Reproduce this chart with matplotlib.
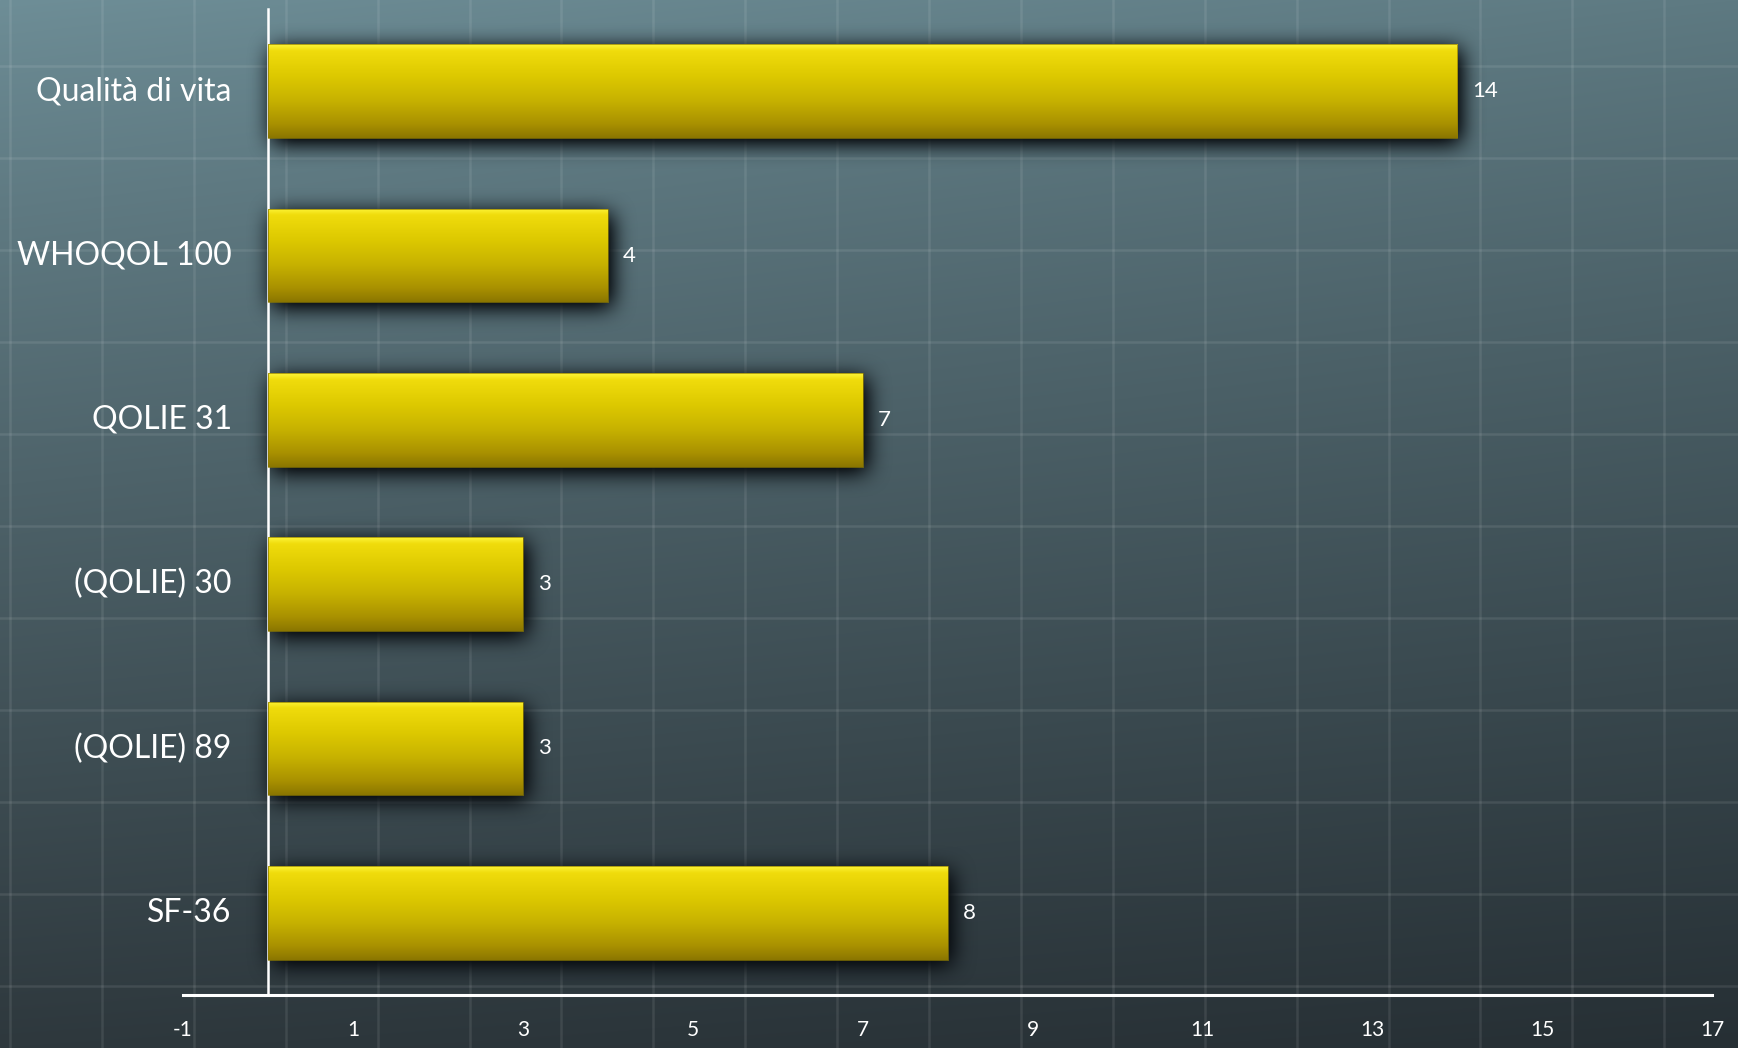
import numpy as np
import matplotlib
matplotlib.use("Agg")
import matplotlib.pyplot as plt
from matplotlib.colors import LinearSegmentedColormap

categories = ["Qualità di vita", "WHOQOL 100", "QOLIE 31", "(QOLIE) 30", "(QOLIE) 89", "SF-36"]
values = [14, 4, 7, 3, 3, 8]
xticks = [-1, 1, 3, 5, 7, 9, 11, 13, 15, 17]

W, H, DPI = 1738, 1048, 100
plt.rcParams['font.family'] = ['Lato', 'DejaVu Sans']
plt.rcParams['axes.unicode_minus'] = False

fig = plt.figure(figsize=(W / DPI, H / DPI), dpi=DPI)

# slate background with a faint square grid texture
bg = fig.add_axes([0, 0, 1, 1], zorder=0)
bg.set_axis_off()
yy, xx = np.mgrid[0:1:H * 1j, 0:1:W * 1j]
tl = np.array([110, 142, 151]); tr = np.array([94, 122, 130])
bl = np.array([46, 56, 61]); br = np.array([38, 47, 52])
xx3, yy3 = xx[..., None], yy[..., None]
top = tl * (1 - xx3) + tr * xx3
bot = bl * (1 - xx3) + br * xx3
img = top * (1 - yy3 ** 0.9) + bot * yy3 ** 0.9
bg.imshow(img / 255, extent=(0, W, H, 0), aspect='auto', interpolation='bilinear', zorder=0)
for gx in np.arange(10, W, 91.9):
    bg.axvline(gx, color='white', alpha=0.09, lw=1.8, zorder=1)
for gy in np.arange(66, H, 92):
    bg.axhline(gy, color='white', alpha=0.09, lw=1.8, zorder=1)
bg.set_xlim(0, W)
bg.set_ylim(H, 0)

# main chart
ax = fig.add_axes([183 / W, 1 - 995 / H, (1712 - 183) / W, (995 - 9) / H], zorder=2)
ax.patch.set_alpha(0)
ypos = np.arange(len(categories))
bars = ax.barh(ypos, values, height=0.57, facecolor='none', edgecolor='#8f7c00',
               linewidth=0.5, zorder=3)

cmap = LinearSegmentedColormap.from_list('gold', [
    (0.0, '#fdf53a'), (0.07, '#f0dc0c'), (0.35, '#dcc800'),
    (0.6, '#c7b200'), (0.85, '#a99100'), (1.0, '#8b7600')])
grad = np.linspace(0, 1, 256).reshape(-1, 1)
for bar in bars:
    x0, y0 = bar.get_x(), bar.get_y()
    w, h = bar.get_width(), bar.get_height()
    im = ax.imshow(grad, cmap=cmap, extent=(x0, x0 + w, y0 + h, y0), aspect='auto',
                   origin='upper', zorder=2.9)
    im.set_clip_path(bar)

ax.set_xlim(-1, 17)
ax.set_ylim(len(categories) - 0.5, -0.5)
ax.set_xticks(xticks)
ax.set_yticks([])
ax.tick_params(axis='x', length=0, pad=18, labelcolor='white', labelsize=15)
for s in ['top', 'right']:
    ax.spines[s].set_visible(False)
ax.spines['left'].set_position(('data', 0))
ax.spines['left'].set_color('white')
ax.spines['left'].set_linewidth(1.8)
ax.spines['bottom'].set_color('white')
ax.spines['bottom'].set_linewidth(2.2)

for i, (name, v) in enumerate(zip(categories, values)):
    ax.annotate(name, xy=(0, i), xytext=(-26, 0), textcoords='offset points',
                ha='right', va='center', color='white', fontsize=23, annotation_clip=False)
    ax.annotate(str(v), xy=(v, i), xytext=(11, 0), textcoords='offset points',
                ha='left', va='center', color='white', fontsize=16)

# soft drop shadow under the bars
fig.canvas.draw()
mask = np.zeros((H, W))
dx, dy = 4, 5
for bar in bars:
    bb = bar.get_window_extent()
    c0, c1 = int(round(bb.x0)) + dx, int(round(bb.x1)) + dx
    r0, r1 = int(round(H - bb.y1)) + dy, int(round(H - bb.y0)) + dy
    mask[max(r0, 0):r1, max(c0, 0):c1] = 1.0


def box_blur(a, r, axis):
    pad = [(0, 0), (0, 0)]
    pad[axis] = (r + 1, r)
    c = np.cumsum(np.pad(a, pad), axis=axis)
    n = a.shape[axis]
    hi = np.take(c, np.arange(2 * r + 1, 2 * r + 1 + n), axis=axis)
    lo = np.take(c, np.arange(0, n), axis=axis)
    return (hi - lo) / (2 * r + 1)


soft = mask
for _ in range(3):
    soft = box_blur(soft, 10, 0)
    soft = box_blur(soft, 10, 1)
shadow = np.zeros((H, W, 4))
shadow[..., 0] = 8 / 255
shadow[..., 1] = 12 / 255
shadow[..., 2] = 16 / 255
shadow[..., 3] = np.clip(soft * 1.4, 0, 0.92)
sh = fig.add_axes([0, 0, 1, 1], zorder=1)
sh.set_axis_off()
sh.patch.set_alpha(0)
sh.imshow(shadow, extent=(0, W, H, 0), aspect='auto', interpolation='nearest')
sh.set_xlim(0, W)
sh.set_ylim(H, 0)

fig.savefig('out.png', dpi=DPI)
